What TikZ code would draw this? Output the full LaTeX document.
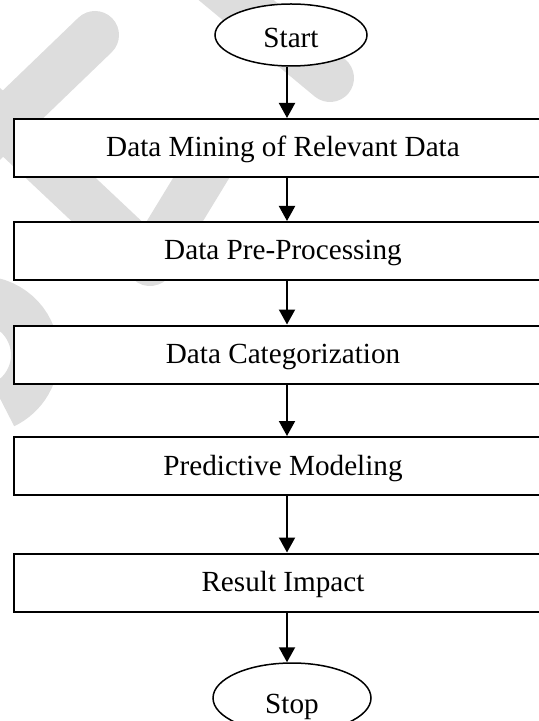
\documentclass[tikz,border=0pt]{standalone}
\usepackage{fontspec}
\setmainfont{Liberation Serif}
\usetikzlibrary{shapes.geometric,arrows.meta}
\definecolor{wmgray}{RGB}{221,221,221}

\begin{document}
\begin{tikzpicture}[x=0.5pt,y=0.5pt]
\tikzstyle{every node}+=[inner sep=0pt,font=\fontsize{14.6}{17}\selectfont]
\tikzstyle{wm}=[wmgray,line width=24pt]
\tikzstyle{stepbox}=[draw,fill=white,line width=1pt,minimum width=269pt,minimum height=29pt,text height=9pt,text depth=0pt]
\tikzstyle{term}=[draw,ellipse,fill=white,line width=0.75pt,text depth=0pt]
\tikzstyle{arr}=[line width=1pt,-{Triangle[width=8pt,length=7.5pt]}]
\useasboundingbox (0,0) rectangle (539,-721);
% watermark
\draw [wm,line cap=round] (95,-35) -- (-40,-165);
\draw [wm,line cap=round] (200,30) -- (330,-78);
\draw [wm,line cap=round,line join=round] (-20,-102) -- (150,-262) -- (217,-152);
\draw [wm] (-20,-355) ++(150:55) arc (150:-65:55);
% flow
\node [term,minimum width=76pt,minimum height=31pt,text height=13pt] (start) at (291,-35) {Start};
\node [stepbox] (mining) at (283,-148) {Data Mining of Relevant Data};
\node [stepbox] (preproc) at (283,-251) {Data Pre-Processing};
\node [stepbox] (categ) at (283,-354.5) {Data Categorization};
\node [stepbox] (predict) at (283,-466) {Predictive Modeling};
\node [stepbox] (impact) at (283,-582.5) {Result Impact};
\node [term,minimum width=79pt,minimum height=35pt,text height=15pt] (stop) at (292,-698) {Stop};
\draw [arr] ([xshift=-2pt]start.south) -- ([xshift=2pt]mining.north);
\draw [arr] ([xshift=2pt]mining.south) -- ([xshift=2pt]preproc.north);
\draw [arr] ([xshift=2pt]preproc.south) -- ([xshift=2pt]categ.north);
\draw [arr] ([xshift=2pt]categ.south) -- ([xshift=2pt]predict.north);
\draw [arr] ([xshift=2pt]predict.south) -- ([xshift=2pt]impact.north);
\draw [arr] ([xshift=2pt]impact.south) -- ([xshift=-2.5pt]stop.north);
\end{tikzpicture}
\end{document}
